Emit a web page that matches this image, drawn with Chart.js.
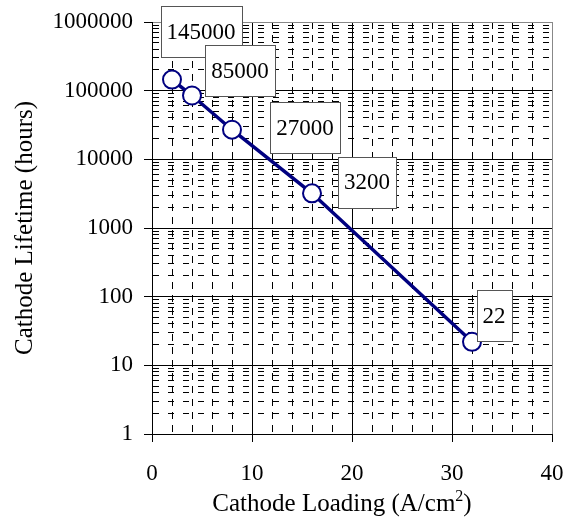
<!DOCTYPE html>
<html>
<head>
<meta charset="utf-8">
<script src="https://cdn.jsdelivr.net/npm/chart.js@4.4.0/dist/chart.umd.min.js"></script>
<style>
  html, body { margin: 0; padding: 0; background: #fff; }
</style>
</head>
<body>
<canvas id="chart" width="573" height="531"></canvas>
<script>
const loading = [2, 4, 8, 16, 32];
const lifetime = [145000, 85000, 27000, 3200, 22];
const pointLabels = ['145000', '85000', '27000', '3200', '22'];
const xTickLabels = [0, 10, 20, 30, 40];
const yTickLabels = [1, 10, 100, 1000, 10000, 100000, 1000000];

// where each value box sits, relative to its point (px)
const labelOffsets = [[29, -48], [48, -25], [73, -2], [55, -11], [22, -26]];

const FONT = 'Liberation Serif, Times New Roman, serif';
Chart.defaults.font.family = FONT;
Chart.defaults.color = '#000';

const isMajorX = v => xTickLabels.includes(v);
const isMajorY = v => yTickLabels.includes(v);

const valueBoxes = {
    id: 'valueBoxes',
    afterDatasetsDraw(chart) {
        const ctx = chart.ctx;
        const meta = chart.getDatasetMeta(0);
        ctx.save();
        ctx.font = '23px ' + FONT;
        ctx.textAlign = 'center';
        ctx.textBaseline = 'middle';
        meta.data.forEach((pt, i) => {
            const cx = pt.x + labelOffsets[i][0];
            const cy = pt.y + labelOffsets[i][1];
            const w = Math.round(ctx.measureText(pointLabels[i]).width + 12);
            const h = 51;
            const x0 = Math.round(cx - w / 2) + 0.5;
            const y0 = Math.round(cy - h / 2) + 0.5;
            ctx.fillStyle = '#fff';
            ctx.fillRect(x0, y0, w, h);
            ctx.strokeStyle = '#555';
            ctx.lineWidth = 1;
            ctx.strokeRect(x0, y0, w, h);
            ctx.fillStyle = '#000';
            ctx.fillText(pointLabels[i], cx, cy + 1);
        });
        ctx.restore();
    }
};

// x axis title with a real superscript
const xTitle = {
    id: 'xTitle',
    afterDraw(chart) {
        const ctx = chart.ctx;
        const main = 'Cathode Loading (A/cm';
        ctx.save();
        ctx.textBaseline = 'alphabetic';
        ctx.textAlign = 'left';
        ctx.fillStyle = '#000';
        ctx.font = '25px ' + FONT;
        const w1 = ctx.measureText(main).width;
        const w3 = ctx.measureText(')').width;
        ctx.font = '16px ' + FONT;
        const w2 = ctx.measureText('2').width;
        const total = w1 + w2 + w3;
        let x = 342 - total / 2;
        const base = 511;
        ctx.font = '25px ' + FONT;
        ctx.fillText(main, x, base);
        x += w1;
        ctx.font = '16px ' + FONT;
        ctx.fillText('2', x, base - 10);
        x += w2;
        ctx.font = '25px ' + FONT;
        ctx.fillText(')', x, base);
        ctx.restore();
    }
};

new Chart(document.getElementById('chart').getContext('2d'), {
    type: 'scatter',
    data: {
        datasets: [{
            data: loading.map((x, i) => ({ x: x, y: lifetime[i] })),
            showLine: true,
            borderColor: '#000080',
            borderWidth: 3.5,
            pointRadius: 9,
            pointHoverRadius: 9,
            pointBorderWidth: 2,
            pointBackgroundColor: '#fff',
            pointBorderColor: '#000080'
        }]
    },
    options: {
        responsive: false,
        animation: false,
        events: [],
        layout: { padding: { top: 22, right: 21, left: 0, bottom: 0 } },
        plugins: {
            legend: { display: false },
            tooltip: { enabled: false }
        },
        scales: {
            x: {
                type: 'linear',
                min: 0,
                max: 40,
                afterBuildTicks(scale) {
                    const t = [];
                    for (let i = 0; i < xTickLabels.length; i++) {
                        t.push(xTickLabels[i]);
                        if (i < xTickLabels.length - 1) {
                            for (let k = 2; k < 10; k += 2) t.push(xTickLabels[i] + k);
                        }
                    }
                    scale.ticks = t.map(v => ({ value: v }));
                },
                afterFit(scale) {
                    scale.height = 97;
                    scale.paddingLeft = 0;
                    scale.paddingRight = 0;
                },
                ticks: {
                    autoSkip: false,
                    maxRotation: 0,
                    padding: 18,
                    font: { size: 23 },
                    callback: v => isMajorX(v) ? String(v) : ''
                },
                grid: {
                    tickLength: 8,
                    lineWidth: 1,
                    color: c => (c.tick && c.tick.value === 40) ? '#888' : '#000',
                    tickColor: c => (c.tick && isMajorX(c.tick.value)) ? '#000' : 'rgba(0,0,0,0)'
                },
                border: {
                    color: '#000',
                    width: 1,
                    dash: c => (c.tick && !isMajorX(c.tick.value)) ? [7, 6] : []
                }
            },
            y: {
                type: 'logarithmic',
                min: 1,
                max: 1000000,
                afterBuildTicks(scale) {
                    const t = [];
                    for (let i = 0; i < yTickLabels.length; i++) {
                        t.push(yTickLabels[i]);
                        if (i < yTickLabels.length - 1) {
                            for (let k = 2; k < 10; k++) t.push(yTickLabels[i] * k);
                        }
                    }
                    scale.ticks = t.map(v => ({ value: v }));
                },
                afterFit(scale) {
                    scale.width = 152;
                    scale.paddingTop = 0;
                    scale.paddingBottom = 0;
                },
                ticks: {
                    autoSkip: false,
                    padding: 11,
                    font: { size: 23 },
                    callback: v => isMajorY(v) ? String(v) : ''
                },
                grid: {
                    tickLength: 8,
                    lineWidth: 1,
                    color: c => (c.tick && c.tick.value === 1000000) ? '#888' : '#000',
                    tickColor: c => (c.tick && isMajorY(c.tick.value)) ? '#000' : 'rgba(0,0,0,0)'
                },
                border: {
                    color: '#000',
                    width: 1,
                    dash: c => (c.tick && !isMajorY(c.tick.value)) ? [6, 9] : []
                },
                title: {
                    display: true,
                    text: 'Cathode Lifetime (hours)',
                    font: { size: 25 },
                    padding: { top: 10, bottom: 0 }
                }
            }
        }
    },
    plugins: [valueBoxes, xTitle]
});
</script>
</body>
</html>
